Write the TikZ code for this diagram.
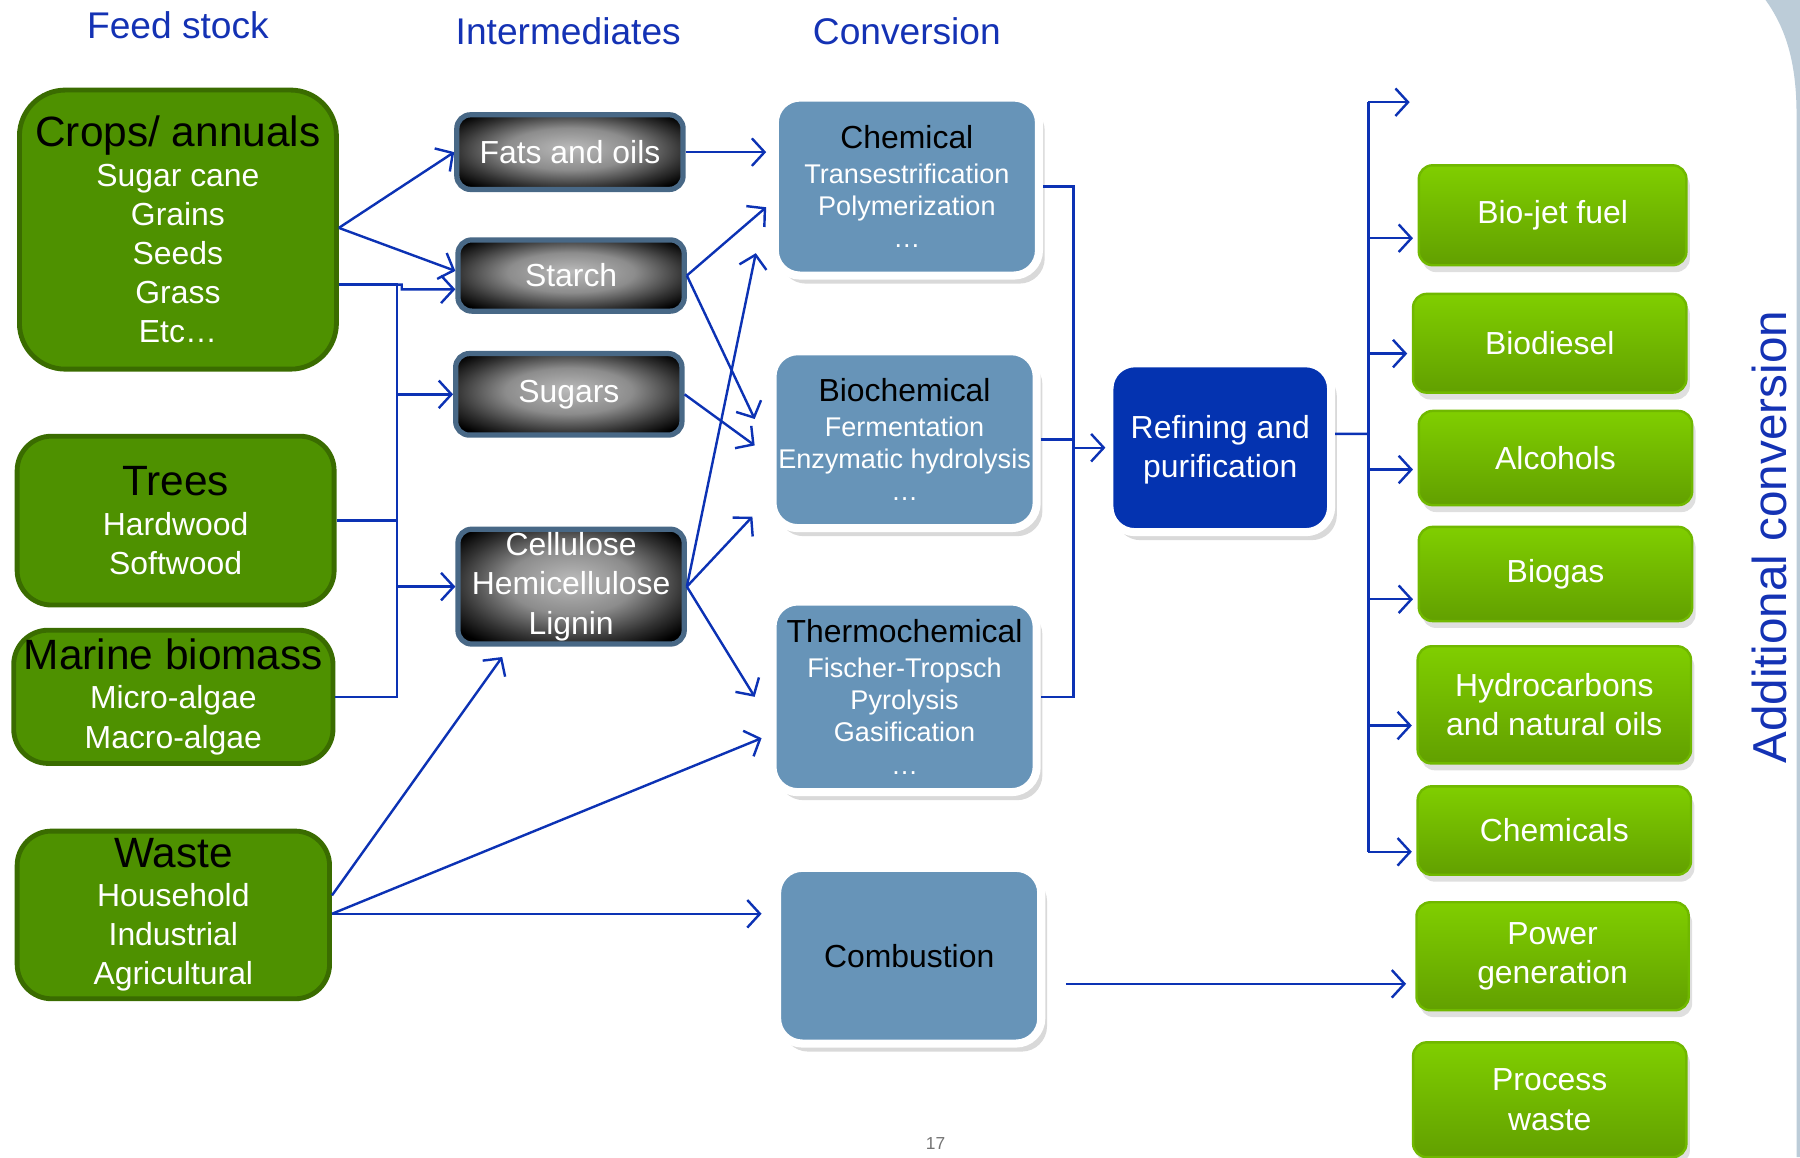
\documentclass[tikz,border=0pt]{standalone}
\usepackage{fontspec}
\setmainfont{Liberation Sans}
\usepackage{tikz}
\usetikzlibrary{arrows.meta,shadows}

\definecolor{arrowblue}{RGB}{12,50,180}
\definecolor{headblue}{RGB}{20,50,180}
\definecolor{feedgreen}{RGB}{78,145,0}
\definecolor{feededge}{RGB}{58,108,0}
\definecolor{intedge}{RGB}{72,104,134}
\definecolor{convblue}{RGB}{103,148,184}
\definecolor{refblue}{RGB}{4,51,176}
\definecolor{outtop}{RGB}{128,206,0}
\definecolor{outbottom}{RGB}{98,160,0}
\definecolor{outedge}{RGB}{112,184,0}
\definecolor{bandgray}{RGB}{188,204,216}

\pgfdeclareradialshading{intglow}{\pgfpoint{0bp}{3bp}}{color(0bp)=(black!27); color(14bp)=(black!45); color(25bp)=(black!80); color(32bp)=(black); color(50bp)=(black)}

\newcommand{\boxfont}{\fontsize{7.9}{9.7}\selectfont}
\newcommand{\smallboxfont}{\fontsize{6.7}{8}\selectfont}
\newcommand{\titlefont}{\fontsize{10.5}{12}\selectfont}
\newcommand{\headfont}{\fontsize{9.2}{11}\selectfont}
\newcommand{\sidefont}{\fontsize{11.8}{14}\selectfont}

\begin{document}
\begin{tikzpicture}[x=0.01cm, y=-0.01cm]
        % Styles
        \tikzstyle{feed} = [rectangle, draw=feededge, line width=1.2pt, fill=feedgreen, rounded corners=0.3cm, text=white, align=center, inner sep=0pt, font=\boxfont]
        \tikzstyle{inter} = [rectangle, draw=intedge, line width=1.3pt, shade, shading=intglow, rounded corners=0.12cm, text=white, align=center, inner sep=0pt, font=\boxfont, minimum width=1.97cm]
        \tikzstyle{conv} = [rectangle, draw=white, line width=2pt, fill=convblue, rounded corners=0.22cm, text=white, align=center, inner sep=0pt, font=\smallboxfont, minimum width=2.3cm, drop shadow={shadow xshift=0.05cm, shadow yshift=-0.07cm, opacity=0.3}]
        \tikzstyle{refine} = [conv, fill=refblue, font=\boxfont]
        \tikzstyle{product} = [rectangle, draw=outedge, line width=0.6pt, top color=outtop, bottom color=outbottom, rounded corners=0.12cm, text=white, align=center, inner sep=0pt, font=\boxfont, drop shadow={shadow xshift=0.03cm, shadow yshift=-0.06cm, opacity=0.25}]
        \tikzstyle{header} = [text=headblue, font=\headfont]
        \tikzstyle{wire} = [draw=arrowblue, line width=0.6pt]
        \tikzstyle{line} = [wire, -{Straight Barb[length=1.1mm, width=2.4mm]}]

        \useasboundingbox (0,0) rectangle (1568,1008);
        \fill [bandgray] (1538,0) .. controls (1556,25) and (1565,55) .. (1565,100) -- (1565,1008) -- (1568,1008) -- (1568,0) -- cycle;

        % Nodes
        \node [feed, rounded corners=0.4cm, minimum width=2.76cm, minimum height=2.43cm] (crops) at (155,200) {{\titlefont\color{black}Crops/ annuals}\\ Sugar cane\\ Grains\\ Seeds\\ Grass\\ Etc…};
        \node [feed, minimum width=2.76cm, minimum height=1.47cm] (trees) at (153,453.5) {{\titlefont\color{black}Trees}\\ Hardwood\\ Softwood};
        \node [feed, minimum width=2.78cm, minimum height=1.16cm] (marine) at (151,607) {{\titlefont\color{black}Marine biomass}\\ Micro-algae\\ Macro-algae};
        \node [feed, minimum width=2.72cm, minimum height=1.46cm] (waste) at (151,797) {{\titlefont\color{black}Waste}\\ Household\\ Industrial\\ Agricultural};

        \node [inter, minimum height=0.65cm] (fats) at (496.5,132.5) {Fats and oils};
        \node [inter, minimum height=0.62cm] (starch) at (497.5,240) {Starch};
        \node [inter, minimum height=0.71cm] (sugars) at (495.5,343.5) {Sugars};
        \node [inter, minimum height=1.0cm] (cellulose) at (497.5,511) {Cellulose\\ Hemicellulose\\ Lignin};

        \node [conv, minimum height=1.55cm] (chemical) at (790,162.5) {{\boxfont\color{black}Chemical}\\[0.6pt] Transestrification\\ Polymerization\\ …};
        \node [conv, minimum height=1.54cm] (biochem) at (788,383) {{\boxfont\color{black}Biochemical}\\[0.6pt] Fermentation\\ Enzymatic hydrolysis\\ …};
        \node [conv, minimum height=1.66cm] (thermo) at (788,607) {{\boxfont\color{black}Thermochemical}\\[0.6pt] Fischer-Tropsch\\ Pyrolysis\\ Gasification\\ …};
        \node [conv, minimum height=1.53cm, text=black, font=\boxfont] (combustion) at (792,832.5) {Combustion};
        \node [refine, minimum width=1.93cm, minimum height=1.47cm] (refining) at (1063,390) {\\[-3pt] Refining and\\ purification};

        \node [product, minimum width=2.33cm, minimum height=0.87cm] (biojet) at (1352.5,187.5) {Bio-jet fuel};
        \node [product, minimum width=2.38cm, minimum height=0.86cm] (biodiesel) at (1350,299) {Biodiesel};
        \node [product, minimum width=2.38cm, minimum height=0.82cm] (alcohols) at (1355,399) {Alcohols};
        \node [product, minimum width=2.38cm, minimum height=0.82cm] (biogas) at (1355,500) {Biogas};
        \node [product, minimum width=2.38cm, minimum height=1.02cm] (hydro) at (1354,614) {Hydrocarbons\\ and natural oils};
        \node [product, minimum width=2.38cm, minimum height=0.77cm] (chemicals) at (1354,723.5) {Chemicals};
        \node [product, minimum width=2.37cm, minimum height=0.94cm] (power) at (1352.5,833) {Power\\ generation};
        \node [product, minimum width=2.38cm, minimum height=1.0cm] (process) at (1350,958) {Process\\ waste};

        % Edges
        \coordinate (busA) at (346,248);
        \draw [wire] (crops.east |- busA) -- (busA) -- (busA |- marine.east) -- (marine.east);
        \draw [wire] (trees.east) -- (trees.east -| busA);
        \path [line] ([yshift=0.015cm]crops.east) -- (fats.west);
        \path [line] ([yshift=0.015cm]crops.east) -- ([yshift=0.04cm]starch.west);
        \path [line] (busA) -- ++(4,0) -- ++(0,4) -- ([yshift=-0.12cm]starch.west);
        \path [line] (busA |- sugars.west) -- (sugars.west);
        \path [line] (busA |- cellulose.west) -- (cellulose.west);

        \path [line, shorten >=0.04cm] (fats.east) -- (fats.east -| chemical.west);
        \path [line] (starch.east) -- ([xshift=-0.04cm,yshift=-0.18cm]chemical.west);
        \path [line] (starch.east) -- ([xshift=-0.12cm,yshift=0.18cm]biochem.west);
        \path [line] (sugars.east) -- ([xshift=-0.12cm,yshift=-0.05cm]biochem.west);
        \path [line] (cellulose.east) -- ([xshift=-0.13cm,yshift=-0.58cm]chemical.west);
        \path [line] (cellulose.east) -- ([xshift=-0.14cm,yshift=-0.67cm]biochem.west);
        \path [line] (cellulose.east) -- ([xshift=-0.12cm]thermo.west);

        \path [line] ([yshift=0.17cm]waste.east) -- ([xshift=-0.6cm,yshift=-0.09cm]cellulose.south);
        \path [line] ([yshift=0.01cm]waste.east) -- ([xshift=-0.06cm,yshift=-0.36cm]thermo.west);
        \path [line, shorten >=0.1cm] ([yshift=0.01cm]waste.east) -- ([yshift=0.01cm]waste.east -| combustion.west);

        \coordinate (busB) at (935,390);
        \draw [wire] (chemical.east) -| (busB |- thermo.east) -- (thermo.east);
        \draw [wire] (biochem.east) -- (biochem.east -| busB);
        \path [line] (busB) -- (refining.west);

        \coordinate (busC) at (1192,378);
        \coordinate (topout) at (1228,89);
        \draw [wire] ([yshift=0.12cm]refining.east) -- (busC);
        \foreach \prod/\dy in {biojet/-0.2cm, biodiesel/-0.09cm, alcohols/-0.1cm, biogas/-0.22cm, hydro/-0.18cm, chemicals/-0.185cm}
        {
            \path ([yshift=\dy]\prod.west) coordinate (tip-\prod);
            \path [line, shorten >=0.04cm] (tip-\prod -| busC) -- (tip-\prod);
        }
        \draw [wire] (topout -| busC) -- (tip-chemicals -| busC);
        \path [line] (topout -| busC) -- (topout);

        \path ([xshift=0.18cm,yshift=-0.245cm]combustion.east) coordinate (combout);
        \path [line, shorten >=0.08cm] (combout) -- (combout -| power.west);

        % Labels
        \node [header] (hfeed) at (155,22) {Feed stock};
        \node [header] (hinter) at (495,27) {Intermediates};
        \node [header] (hconv) at (790,27) {Conversion};
        \node [header, rotate=90, font=\sidefont] (hadd) at (1541,468) {Additional conversion};
        \node [text=black!55, font=\fontsize{4.3}{5}\selectfont] (pageno) at (815,996) {17};
    \end{tikzpicture}
\end{document}
